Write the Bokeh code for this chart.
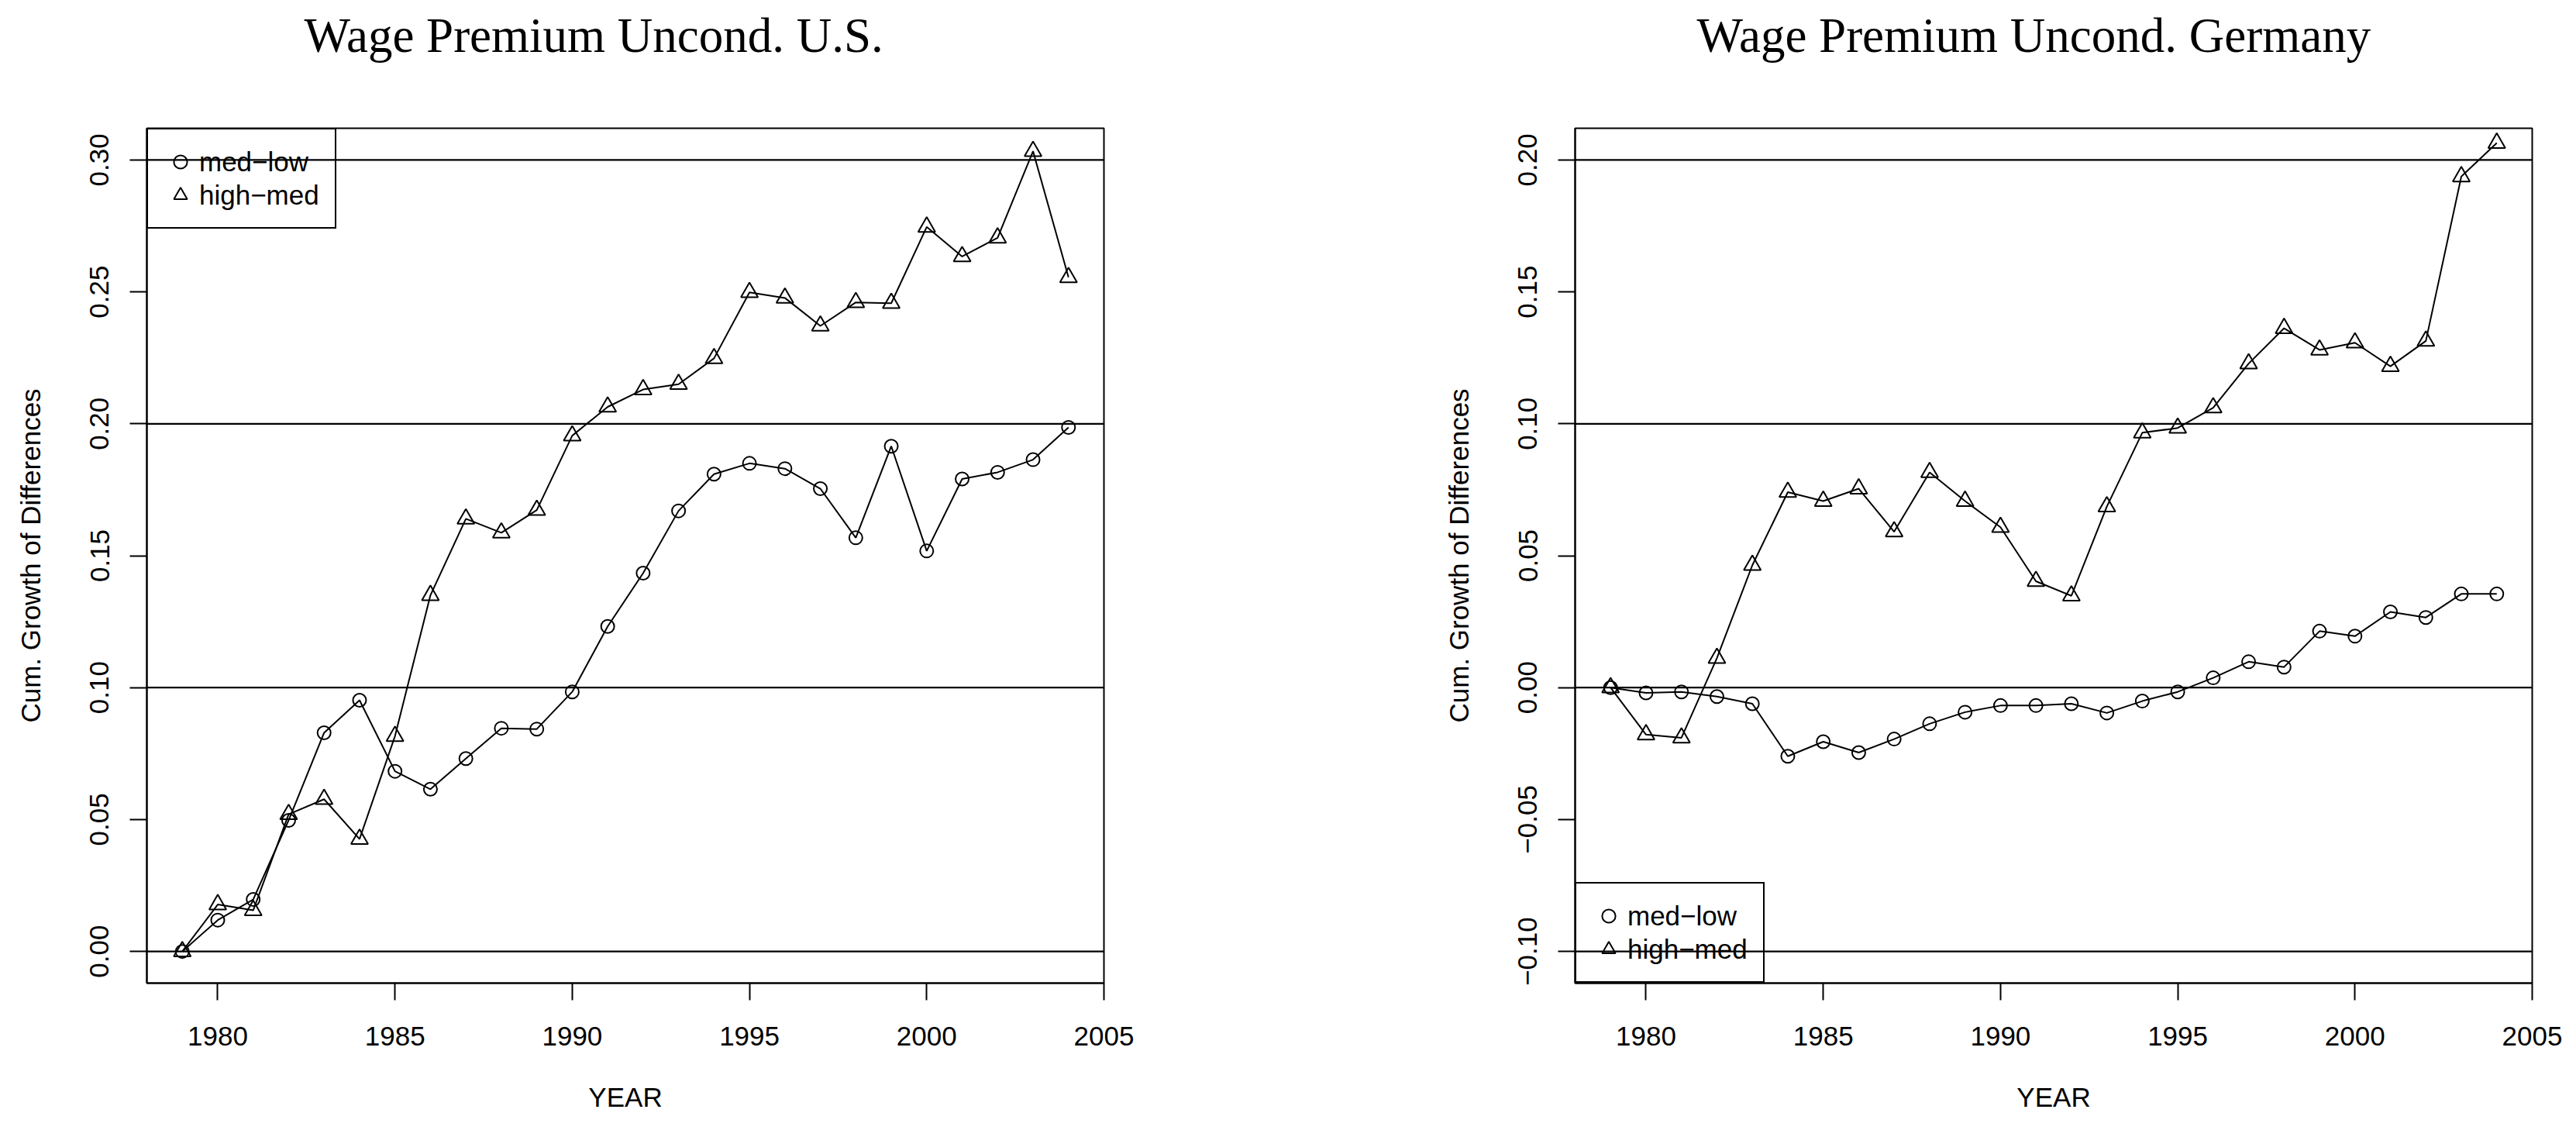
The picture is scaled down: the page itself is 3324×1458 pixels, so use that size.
from bokeh.plotting import figure
from bokeh.layouts import row
from bokeh.models import Span, FixedTicker, Range1d, CustomJSTickFormatter, Title
from bokeh.embed import file_html
from bokeh.resources import INLINE

years = [1979, 1980, 1981, 1982, 1983, 1984, 1985, 1986, 1987, 1988, 1989, 1990, 1991,
         1992, 1993, 1994, 1995, 1996, 1997, 1998, 1999, 2000, 2001, 2002, 2003, 2004]

us_med_low = [0.0, 0.0119, 0.0197, 0.0497, 0.0829, 0.0952, 0.0683, 0.0615, 0.0731, 0.0846,
              0.0843, 0.0984, 0.1232, 0.1434, 0.1670, 0.1809, 0.1850, 0.1830, 0.1754, 0.1568,
              0.1915, 0.1518, 0.1791, 0.1816, 0.1864, 0.1986]
us_high_med = [0.0, 0.0178, 0.0156, 0.0520, 0.0577, 0.0426, 0.0816, 0.1350, 0.1640, 0.1587,
               0.1673, 0.1955, 0.2064, 0.2130, 0.2150, 0.2248, 0.2498, 0.2477, 0.2371, 0.2460,
               0.2457, 0.2746, 0.2634, 0.2705, 0.3033, 0.2555]

de_med_low = [0.0, -0.0020, -0.0016, -0.0034, -0.0061, -0.0260, -0.0205, -0.0246, -0.0195,
              -0.0137, -0.0093, -0.0068, -0.0068, -0.0061, -0.0096, -0.0051, -0.0016, 0.0037,
              0.0098, 0.0078, 0.0214, 0.0195, 0.0287, 0.0266, 0.0355, 0.0355]
de_high_med = [0.0, -0.0178, -0.0190, 0.0112, 0.0464, 0.0741, 0.0707, 0.0754, 0.0591, 0.0816,
               0.0707, 0.0608, 0.0403, 0.0348, 0.0686, 0.0966, 0.0984, 0.1061, 0.1228, 0.1362,
               0.1280, 0.1307, 0.1218, 0.1314, 0.1937, 0.2064]

series_labels = ["med\u2212low", "high\u2212med"]
x_ticks = [1980, 1985, 1990, 1995, 2000, 2005]
us_y_ticks = [0.0, 0.05, 0.10, 0.15, 0.20, 0.25, 0.30]
de_y_ticks = [-0.10, -0.05, 0.0, 0.05, 0.10, 0.15, 0.20]
us_ref_lines = [0.0, 0.1, 0.2, 0.3]
de_ref_lines = [-0.1, 0.0, 0.1, 0.2]

SANS = "Liberation Sans"
SERIF = "Liberation Serif"
FS = "35px"
FRAME_W, FRAME_H = 1235, 1103
X_RANGE = (1978, 2005)


def make_panel(title, med_low, high_med, y_ticks, ref_lines, y_range, legend_loc,
               right_border, title_offset):
    p = figure(frame_width=FRAME_W, frame_height=FRAME_H,
               min_border_left=189, min_border_right=right_border, min_border_top=165,
               min_border_bottom=174,
               x_range=Range1d(*X_RANGE), y_range=Range1d(*y_range),
               output_backend="svg", toolbar_location=None,
               background_fill_color="white", border_fill_color="white")

    # spacer (closest to the frame) and the real title above it
    p.add_layout(Title(text=" ", text_font_size="10px", standoff=72), "above")
    p.add_layout(Title(text=title, text_font=SERIF, text_font_size="63px",
                       text_font_style="normal", text_color="black", align="left",
                       offset=title_offset, standoff=0, vertical_align="bottom"), "above")

    p.xgrid.visible = False
    p.ygrid.visible = False
    p.outline_line_color = "black"
    p.outline_line_width = 2
    p.outline_line_alpha = 1

    for ax in (p.xaxis[0], p.yaxis[0]):
        ax.major_tick_out = 22
        ax.major_tick_in = 0
        ax.minor_tick_out = 0
        ax.minor_tick_in = 0
        ax.major_tick_line_width = 2
        ax.major_tick_line_color = "black"
        ax.axis_line_color = "black"
        ax.axis_line_width = 2
        ax.major_label_text_font = SANS
        ax.major_label_text_font_size = FS
        ax.major_label_text_color = "black"
        ax.axis_label_text_font = SANS
        ax.axis_label_text_font_size = FS
        ax.axis_label_text_font_style = "normal"
        ax.axis_label_text_color = "black"

    p.xaxis.ticker = FixedTicker(ticks=x_ticks)
    p.xaxis.axis_label = "YEAR"
    p.xaxis.major_label_standoff = 34
    p.xaxis.axis_label_standoff = 44

    p.yaxis.ticker = FixedTicker(ticks=y_ticks)
    p.yaxis.formatter = CustomJSTickFormatter(
        code="return (tick < -1e-9 ? '\u2212' : '') + Math.abs(tick).toFixed(2);")
    p.yaxis.major_label_orientation = "vertical"
    p.yaxis.axis_label = "Cum. Growth of Differences"
    p.yaxis.major_label_standoff = 27
    p.yaxis.axis_label_standoff = 55

    for v in ref_lines:
        p.add_layout(Span(location=v, dimension="width", line_color="black", line_width=2.2))

    p.line(years, med_low, line_color="black", line_width=2)
    p.line(years, high_med, line_color="black", line_width=2)
    p.scatter(years, med_low, marker="circle", size=17, fill_alpha=0,
              line_color="black", line_width=2, legend_label=series_labels[0])
    p.scatter(years, high_med, marker="triangle", size=22, fill_alpha=0,
              line_color="black", line_width=2, legend_label=series_labels[1])

    lg = p.legend[0]
    lg.location = legend_loc
    lg.margin = 0
    lg.padding = 20
    lg.spacing = 0
    lg.glyph_width = 43
    lg.glyph_height = 43
    lg.label_height = 43
    lg.label_standoff = 3
    lg.label_text_font = SANS
    lg.label_text_font_size = FS
    lg.label_text_color = "black"
    lg.border_line_color = "black"
    lg.border_line_alpha = 1
    lg.border_line_width = 2
    lg.background_fill_color = "white"
    lg.background_fill_alpha = 0
    return p


p1 = make_panel("Wage Premium Uncond. U.S.", us_med_low, us_high_med, us_y_ticks,
                us_ref_lines, (-0.012, 0.312), "top_left", 419, 203)
p2 = make_panel("Wage Premium Uncond. Germany", de_med_low, de_high_med, de_y_ticks,
                de_ref_lines, (-0.112, 0.212), "bottom_left", 48, 157)

layout = row(p1, p2, spacing=0)
open("out.html", "w").write(file_html(layout, INLINE))
